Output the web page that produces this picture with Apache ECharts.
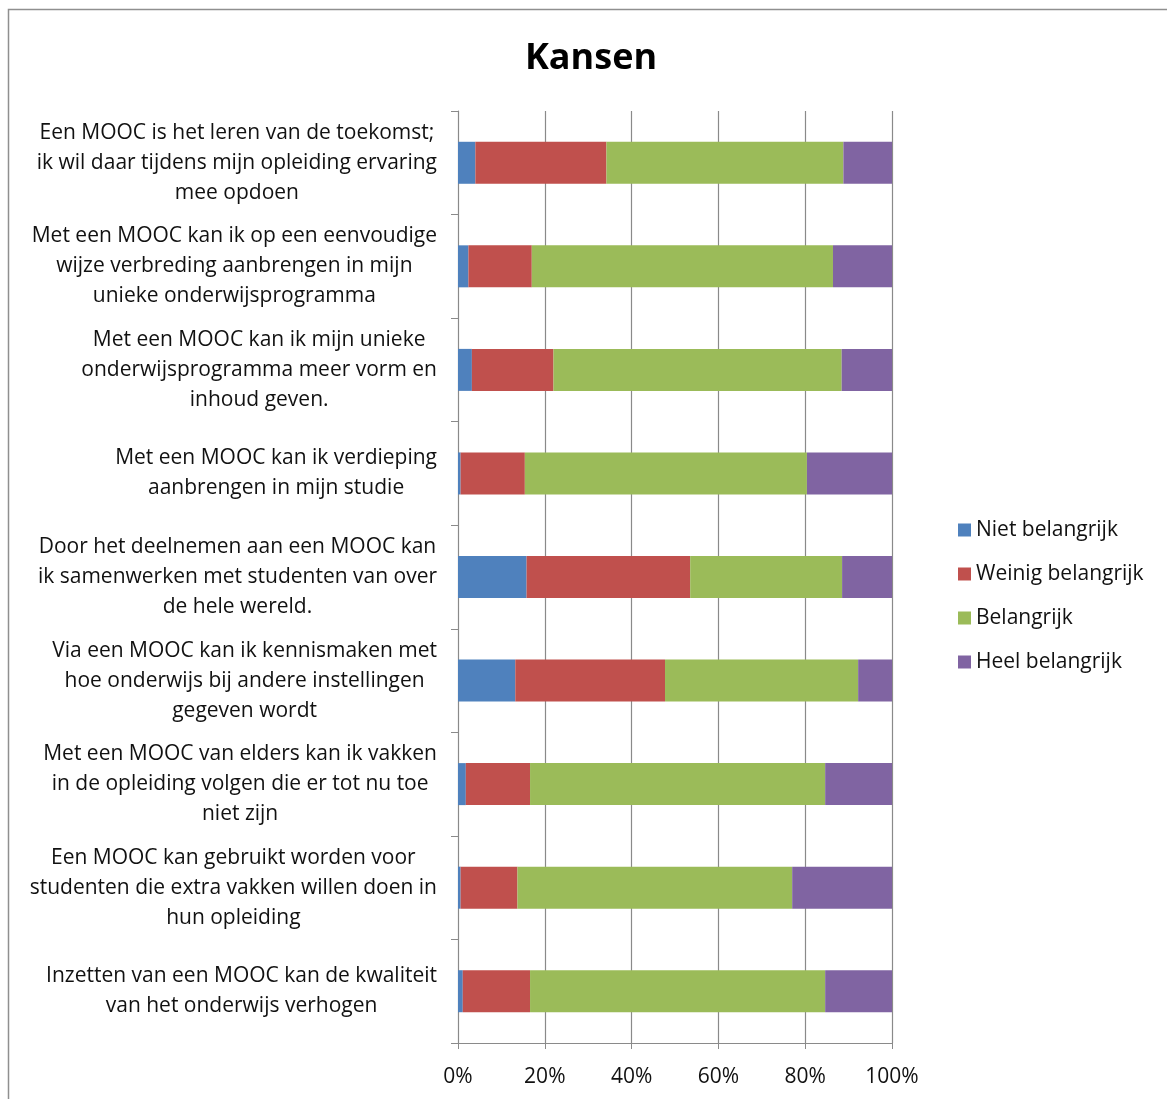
<!DOCTYPE html>
<html>
<head>
<meta charset="utf-8">
<title>Kansen</title>
<script src="https://cdn.jsdelivr.net/npm/echarts@6/dist/echarts.min.js"></script>
<style>
  html, body { margin: 0; padding: 0; background: #fff; }
  #chart { width: 1167px; height: 1099px; }
</style>
</head>
<body>
<div id="chart"></div>
<script>
// categories, top to bottom (lines broken as in the source)
const categories = [
  'Een MOOC is het leren van de toekomst;\nik wil daar tijdens mijn opleiding ervaring\nmee opdoen',
  'Met een MOOC kan ik op een eenvoudige\nwijze verbreding aanbrengen in mijn\nunieke onderwijsprogramma',
  'Met een MOOC kan ik mijn unieke\nonderwijsprogramma meer vorm en\ninhoud geven.',
  'Met een MOOC kan ik verdieping\naanbrengen in mijn studie',
  'Door het deelnemen aan een MOOC kan\nik samenwerken met studenten van over\nde hele wereld.',
  'Via een MOOC kan ik kennismaken met\nhoe onderwijs bij andere instellingen\ngegeven wordt',
  'Met een MOOC van elders kan ik vakken\nin de opleiding volgen die er tot nu toe\nniet zijn',
  'Een MOOC kan gebruikt worden voor\nstudenten die extra vakken willen doen in\nhun opleiding',
  'Inzetten van een MOOC kan de kwaliteit\nvan het onderwijs verhogen'
]

const seriesNames = ['Niet belangrijk', 'Weinig belangrijk', 'Belangrijk', 'Heel belangrijk']

// percentages
const nietBelangrijk   = [4.0, 2.4, 3.2, 0.6, 15.8, 13.2, 1.8, 0.6, 1.1]
const weinigBelangrijk = [30.2, 14.6, 18.8, 14.8, 37.7, 34.5, 14.8, 13.1, 15.5]
const belangrijk       = [54.6, 69.4, 66.4, 65.0, 35.0, 44.5, 68.0, 63.3, 68.0]
const heelBelangrijk   = [11.2, 13.6, 11.6, 19.6, 11.5, 7.8, 15.4, 23.0, 15.4]

const xTicks = [0, 20, 40, 60, 80, 100]

const colors = ['#4F81BD', '#C0504D', '#9BBB59', '#8064A2']
const font = 'Open Sans'
const fs = 21
const gridColor = '#8a8a8a'

const chart = echarts.init(document.getElementById('chart'))

chart.setOption({
  backgroundColor: '#fff',
  color: colors,
  animation: false,
  title: {
    text: 'Kansen',
    left: 586, top: 36, textAlign: 'center',
    textStyle: { fontFamily: font, fontSize: 36, fontWeight: 'bold', color: '#000' }
  },
  legend: {
    orient: 'vertical',
    left: 958, top: 519, padding: 0,
    itemWidth: 13, itemHeight: 13, itemGap: 22,
    icon: 'rect',
    data: seriesNames,
    textStyle: { fontFamily: font, fontSize: fs, color: '#111', lineHeight: 22 }
  },
  graphic: [{
    type: 'rect', silent: true,
    shape: { x: 8.5, y: 9.5, width: 1300, height: 1300 },
    style: { fill: 'none', stroke: '#8f8f8f', lineWidth: 1.5 }
  }],
  grid: { left: 458, right: 275, top: 111, bottom: 56 },
  xAxis: {
    type: 'value', min: 0, max: 100, interval: 20,
    axisLine: { show: true, lineStyle: { color: gridColor } },
    axisTick: { show: true, length: 6, lineStyle: { color: gridColor } },
    axisLabel: {
      margin: 24, color: '#111', fontFamily: font, fontSize: fs,
      formatter: (v) => xTicks.includes(v) ? v + '%' : ''
    },
    splitLine: { show: true, lineStyle: { color: gridColor, width: 1.2 } }
  },
  yAxis: {
    type: 'category', inverse: true, data: categories,
    axisLine: { show: true, lineStyle: { color: gridColor } },
    axisTick: { show: true, length: 7, lineStyle: { color: gridColor } },
    axisLabel: {
      margin: 21, color: '#111', fontFamily: font, fontSize: fs, lineHeight: 30,
      formatter: (v) => v.split('\n').map(l => '{c|' + l + '}').join('\n'),
      rich: { c: { align: 'center', fontFamily: font, fontSize: fs, lineHeight: 30, color: '#111' } }
    }
  },
  series: [nietBelangrijk, weinigBelangrijk, belangrijk, heelBelangrijk].map((d, i) => ({
    name: seriesNames[i],
    type: 'bar',
    stack: 'total',
    barWidth: 42,
    data: d
  }))
})
</script>
</body>
</html>
